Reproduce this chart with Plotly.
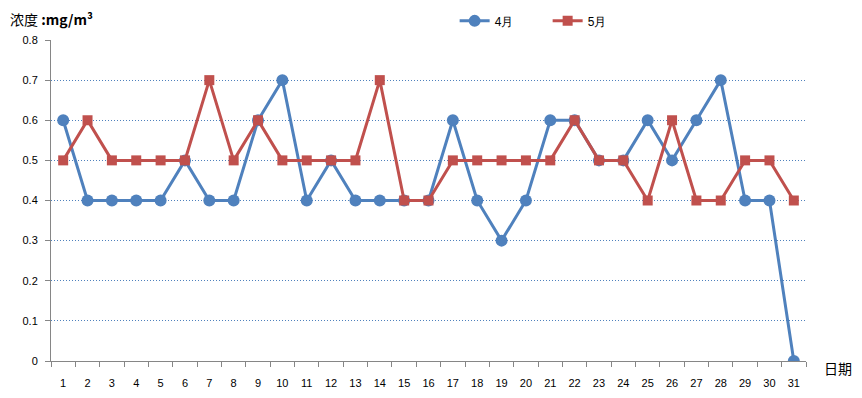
import plotly.graph_objects as go

days = [str(d) for d in range(1, 32)]
april = [0.6, 0.4, 0.4, 0.4, 0.4, 0.5, 0.4, 0.4, 0.6, 0.7, 0.4, 0.5, 0.4, 0.4, 0.4, 0.4,
         0.6, 0.4, 0.3, 0.4, 0.6, 0.6, 0.5, 0.5, 0.6, 0.5, 0.6, 0.7, 0.4, 0.4, 0.0]
may = [0.5, 0.6, 0.5, 0.5, 0.5, 0.5, 0.7, 0.5, 0.6, 0.5, 0.5, 0.5, 0.5, 0.7, 0.4, 0.4,
       0.5, 0.5, 0.5, 0.5, 0.5, 0.6, 0.5, 0.5, 0.4, 0.6, 0.4, 0.4, 0.5, 0.5, 0.4]
y_ticks = [0, 0.1, 0.2, 0.3, 0.4, 0.5, 0.6, 0.7, 0.8]
y_tick_text = ["0", "0.1", "0.2", "0.3", "0.4", "0.5", "0.6", "0.7", "0.8"]

BLUE = "#4f81bd"
RED = "#c0504d"
FONT = "Liberation Sans"

fig = go.Figure()
fig.add_trace(go.Scatter(x=days, y=april, name="4月", mode="lines+markers",
                         line=dict(color=BLUE, width=3),
                         marker=dict(symbol="circle", size=12, color=BLUE)))
fig.add_trace(go.Scatter(x=days, y=may, name="5月", mode="lines+markers",
                         line=dict(color=RED, width=3),
                         marker=dict(symbol="square", size=10, color=RED)))

fig.update_layout(
    width=854, height=390,
    margin=dict(l=43, r=56, t=32, b=37, autoexpand=False),
    paper_bgcolor="white", plot_bgcolor="white",
    font=dict(family=FONT, size=11, color="black"),
    showlegend=True,
    legend=dict(orientation="h", xref="container", yref="container",
                x=0.523, y=0.967, xanchor="left", yanchor="middle",
                font=dict(size=12), entrywidth=48, entrywidthmode="pixels",
                itemwidth=30, bgcolor="rgba(0,0,0,0)"),
    xaxis=dict(type="category", tickson="boundaries", ticks="outside", ticklen=5,
               tickcolor="#868686", showline=True, linecolor="#868686", linewidth=1,
               showgrid=False, zeroline=False, tickfont=dict(size=11),
               ticklabelstandoff=12, automargin=False,
               range=[-0.5, 30.5]),
    yaxis=dict(range=[0, 0.8], tickvals=y_ticks, ticktext=y_tick_text,
               ticks="outside", ticklen=5, tickcolor="#868686",
               showline=True, linecolor="#868686", linewidth=1,
               showgrid=True, gridcolor=BLUE, griddash="1px,2px", gridwidth=1,
               zeroline=False, tickfont=dict(size=11), ticklabelstandoff=5,
               automargin=False),
    annotations=[
        dict(text="浓度 <b>:mg/m³</b>", xref="paper", yref="paper", x=-0.057, y=1.066,
             xanchor="left", yanchor="middle", showarrow=False,
             font=dict(family="Noto Sans CJK SC", size=14)),
        dict(text="日期", xref="paper", yref="paper", x=1.021, y=-0.022,
             xanchor="left", yanchor="middle", showarrow=False,
             font=dict(family="Noto Sans CJK SC", size=14)),
    ],
)

fig.write_html("out.html")
